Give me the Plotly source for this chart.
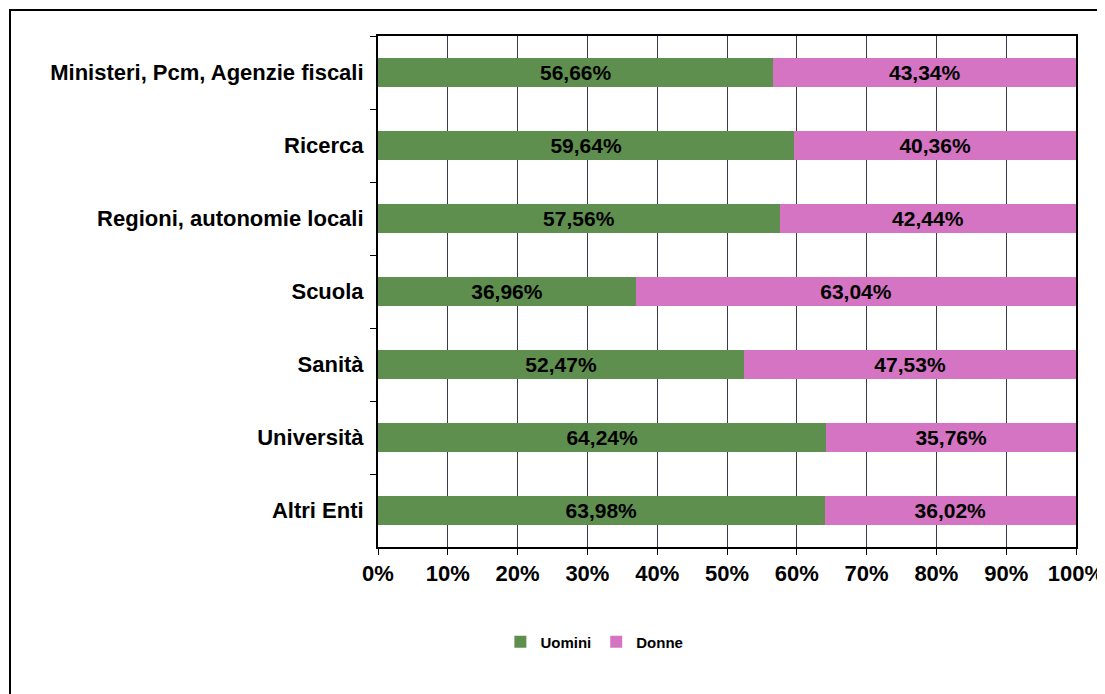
import plotly.graph_objects as go

categories = ["Ministeri, Pcm, Agenzie fiscali", "Ricerca", "Regioni, autonomie locali",
              "Scuola", "Sanità", "Università", "Altri Enti"]
uomini = [56.66, 59.64, 57.56, 36.96, 52.47, 64.24, 63.98]
donne = [43.34, 40.36, 42.44, 63.04, 47.53, 35.76, 36.02]

def fmt(v):
    return f"{v:.2f}%".replace(".", ",")

fig = go.Figure()
fig.add_trace(go.Bar(y=categories, x=uomini, name="Uomini", orientation="h",
                     marker_color="#5f8f4f", marker_line_width=0,
                     text=[fmt(v) for v in uomini], textposition="inside",
                     insidetextanchor="middle"))
fig.add_trace(go.Bar(y=categories, x=donne, name="Donne", orientation="h",
                     marker_color="#d474c2", marker_line_width=0,
                     text=[fmt(v) for v in donne], textposition="inside",
                     insidetextanchor="middle"))

fig.update_traces(textfont=dict(family="Liberation Sans", size=21, color="black", weight="bold"),
                  textangle=0, cliponaxis=False)

# the page body adds an 8px offset, so the figure is a little smaller than the window
fig.update_layout(
    barmode="stack", bargap=0.6,
    width=1097, height=686,
    margin=dict(l=370, r=29, t=28, b=147, autoexpand=False),
    paper_bgcolor="white", plot_bgcolor="white",
    font=dict(family="Liberation Sans", color="black"),
    legend=dict(orientation="h", x=0.31, xanchor="center", y=-0.186, yanchor="middle",
                font=dict(size=15, family="Liberation Sans", weight="bold"),
                itemwidth=30, traceorder="normal"),
)

fig.update_xaxes(range=[0, 100], dtick=10, ticksuffix="%",
                 showgrid=True, gridcolor="#3a3a48", gridwidth=1,
                 showline=True, linecolor="black", linewidth=2, mirror=True,
                 ticks="outside", ticklen=6, tickcolor="black",
                 tickfont=dict(size=22, family="Liberation Sans", weight="bold"),
                 zeroline=False, automargin=False, fixedrange=True)
fig.update_yaxes(autorange="reversed", tickson="boundaries",
                 showline=True, linecolor="black", linewidth=2, mirror=True,
                 ticks="outside", ticklen=6, tickcolor="black",
                 tickfont=dict(size=22, family="Liberation Sans", weight="bold"),
                 ticklabelstandoff=8,
                 showgrid=False, automargin=False, fixedrange=True)

# outer chart frame
fig.add_shape(type="rect", xref="paper", yref="paper",
              x0=-368 / 698, x1=1 + 60 / 698,
              y0=-200 / 511, y1=1 + 26 / 511,
              line=dict(color="black", width=2), fillcolor="rgba(0,0,0,0)", layer="below")

fig.write_html("out.html")
